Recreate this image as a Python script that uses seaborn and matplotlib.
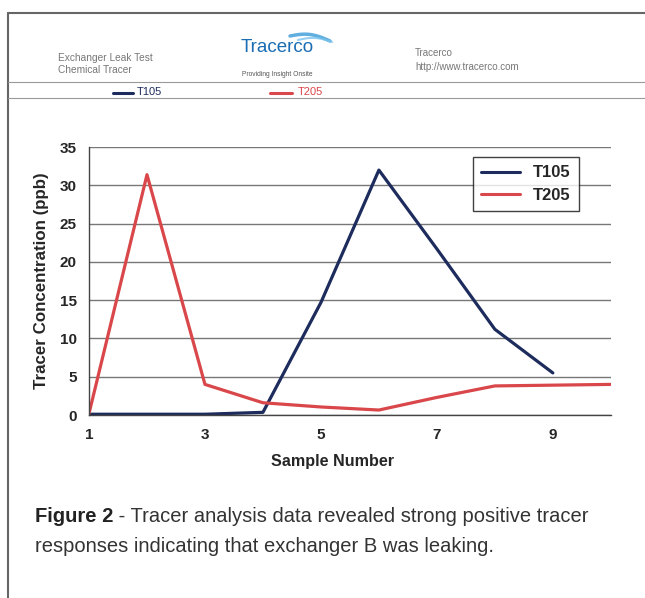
import numpy as np
import pandas as pd
import seaborn as sns
import matplotlib.pyplot as plt
from matplotlib.lines import Line2D

# values
samples_t105 = [1, 2, 3, 4, 5, 6, 7, 8, 9]
t105 = [0.1, 0.1, 0.1, 0.35, 14.7, 32.0, 21.7, 11.2, 5.5]
samples_t205 = [1, 2, 3, 4, 5, 6, 7, 8, 9, 10]
t205 = [0.2, 31.4, 4.0, 1.6, 1.05, 0.65, 2.3, 3.8, 3.9, 4.0]

x_ticks = [1, 3, 5, 7, 9]
y_ticks = [0, 5, 10, 15, 20, 25, 30, 35]

navy = "#1d2c5c"
red = "#d9474a"

sns.set_theme(style="white")
plt.rcParams['font.family'] = ['Liberation Sans', 'DejaVu Sans']

fig = plt.figure(figsize=(6.45, 5.98), dpi=100)
ax = fig.add_axes([0.138, 0.306, 0.809, 0.448])

df = pd.concat([
    pd.DataFrame({"sample": samples_t105, "ppb": t105, "series": "T105"}),
    pd.DataFrame({"sample": samples_t205, "ppb": t205, "series": "T205"}),
])
sns.lineplot(data=df, x="sample", y="ppb", hue="series",
             palette={"T105": navy, "T205": red}, linewidth=2.3, ax=ax)

ax.set_xlim(1, 10)
ax.set_ylim(0, 35)
ax.set_xticks(x_ticks)
ax.set_yticks(y_ticks)
ax.yaxis.grid(True, color="#777777", linewidth=1.0)
ax.set_axisbelow(True)
for s in ["top", "right"]:
    ax.spines[s].set_visible(False)
for s in ["left", "bottom"]:
    ax.spines[s].set_color("#444444")
    ax.spines[s].set_linewidth(1.0)
ax.tick_params(axis="both", direction="out", length=5, width=1,
               color="#444444", labelsize=11, pad=4)
for lab in ax.get_xticklabels() + ax.get_yticklabels():
    lab.set_fontweight("bold")
ax.set_xlabel("Sample Number", fontsize=11.6, fontweight="bold")
ax.set_ylabel("Tracer Concentration (ppb)", fontsize=12.2, fontweight="bold")
ax.xaxis.set_label_coords(0.467, -0.146)
ax.yaxis.set_label_coords(-0.077, 0.5)

leg = ax.legend(handles=[Line2D([], [], color=navy, lw=2.2),
                         Line2D([], [], color=red, lw=2.2)],
                labels=["T105", "T205"], loc="upper right",
                bbox_to_anchor=(0.939, 0.963), borderaxespad=0,
                frameon=True, fancybox=False, edgecolor="#111111",
                handlelength=2.3, borderpad=0.5, labelspacing=0.45,
                prop={"weight": "bold", "size": 12})
leg.get_frame().set_linewidth(1.0)

# page frame and header
W, H = 645, 598
def fx(px):
    return px / W
def fy(py):
    return 1 - py / H

frame_col = "#666666"
fig.add_artist(Line2D([fx(8), fx(8)], [fy(13), 0], color=frame_col, lw=1.5))
fig.add_artist(Line2D([fx(8), 1], [fy(13), fy(13)], color=frame_col, lw=1.5))
fig.add_artist(Line2D([fx(8), 1], [fy(82), fy(82)], color="#999999", lw=0.8))
fig.add_artist(Line2D([fx(8), 1], [fy(98), fy(98)], color="#999999", lw=0.8))

fig.text(fx(58), fy(58), "Exchanger Leak Test", fontsize=7.3, color="#777777", va="center")
fig.text(fx(58), fy(70), "Chemical Tracer", fontsize=7.3, color="#777777", va="center")
fig.text(fx(415), fy(53), "Tracerco", fontsize=7, color="#777777", va="center")
fig.text(fx(415), fy(67), "http://www.tracerco.com", fontsize=7, color="#777777", va="center")

fig.text(fx(277), fy(48), "Tracerco", fontsize=13.5, color="#1a6db3", ha="center", va="center")
fig.text(fx(277), fy(75), "Providing Insight Onsite", fontsize=4.8, color="#555555", ha="center", va="center")
sw = np.linspace(0, 1, 40)
fig.add_artist(Line2D(fx(290 + 40 * sw), fy(36 - 4 * np.sin(np.pi * sw) + 5 * sw),
                      color="#3a9ad9", lw=2.5, alpha=0.8))
fig.add_artist(Line2D(fx(298 + 34 * sw), fy(40 - 3 * np.sin(np.pi * sw) + 2 * sw),
                      color="#7cc4ee", lw=1.5, alpha=0.8))

fig.add_artist(Line2D([fx(113), fx(133)], [fy(93), fy(93)], color=navy, lw=2.2))
fig.text(fx(137), fy(92), "T105", fontsize=8, color=navy, va="center")
fig.add_artist(Line2D([fx(270), fx(292)], [fy(93), fy(93)], color=red, lw=2.2))
fig.text(fx(298), fy(92), "T205", fontsize=8, color=red, va="center")

cap_size = 14.5
fig_lab = fig.text(fx(35), fy(517), "Figure 2", fontsize=cap_size, fontweight="bold",
                   color="#222222", va="center")
fig.canvas.draw()
ax.annotate(" - Tracer analysis data revealed strong positive tracer",
            xy=(1, 0.5), xycoords=fig_lab, va="center", ha="left",
            fontsize=cap_size, color="#333333", annotation_clip=False)
fig.text(fx(35), fy(546), "responses indicating that exchanger B was leaking.",
         fontsize=cap_size, color="#333333", va="center")

fig.savefig("out.png", dpi=100)
